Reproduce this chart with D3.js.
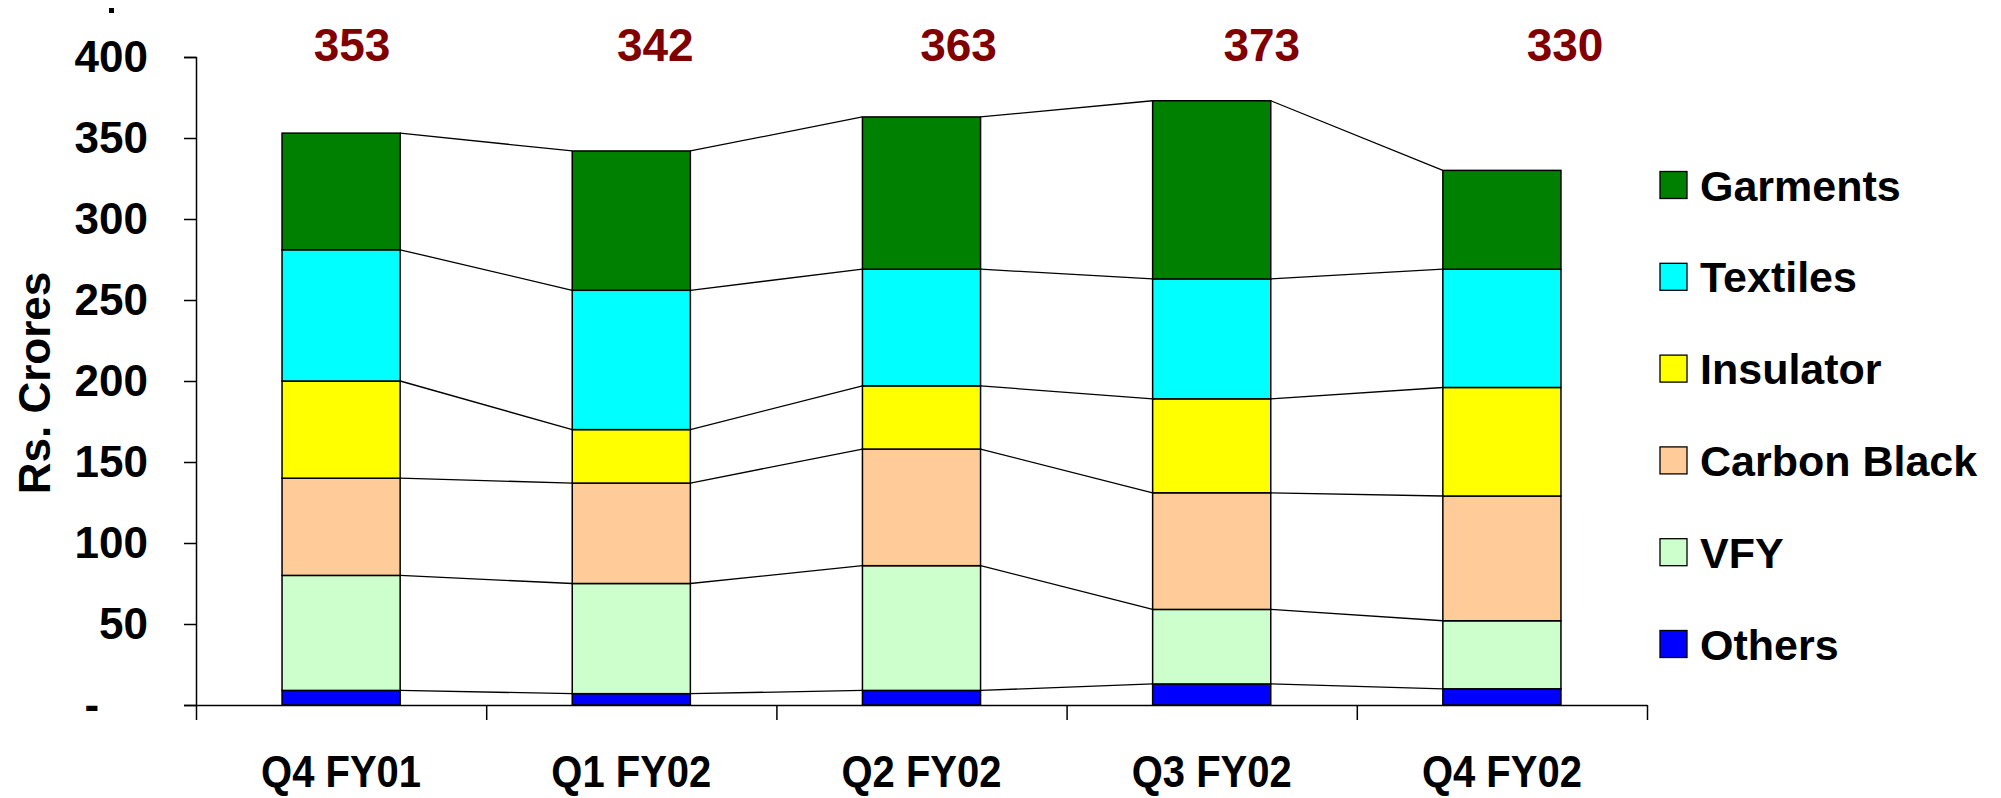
<!DOCTYPE html>
<html>
<head>
<meta charset="utf-8">
<script src="https://cdn.jsdelivr.net/npm/d3@7"></script>
<style>
  body { margin: 0; background: #fff; }
  text { font-family: "Liberation Sans", Arial, sans-serif; font-weight: bold; }
</style>
</head>
<body>
<div id="chart"></div>
<script>
// Sales mix by business, stacked bars with connector lines (Rs. Crores)
const width = 2001, height = 798;
const margin = {top: 57, right: 354, bottom: 93, left: 196};

const categories = ["Q4 FY01", "Q1 FY02", "Q2 FY02", "Q3 FY02", "Q4 FY02"];
const seriesNames = ["Others", "VFY", "Carbon Black", "Insulator", "Textiles", "Garments"];
const others    = [9, 7, 9, 13, 10];
const vfy       = [71, 68, 77, 46, 42];
const carbon    = [60, 62, 72, 72, 77];
const insulator = [60, 33, 39, 58, 67];
const textiles  = [81, 86, 72, 74, 73];
const garments  = [72, 86, 94, 110, 61];
const totals    = [353, 342, 363, 373, 330];
const yTicks    = [0, 50, 100, 150, 200, 250, 300, 350, 400];

const colors = {
  "Garments": "#008000", "Textiles": "#00ffff", "Insulator": "#ffff00",
  "Carbon Black": "#ffcc99", "VFY": "#ccffcc", "Others": "#0000ff"
};

const rows = categories.map((c, i) => ({
  cat: c, "Others": others[i], "VFY": vfy[i], "Carbon Black": carbon[i],
  "Insulator": insulator[i], "Textiles": textiles[i], "Garments": garments[i]
}));

const svg = d3.select("#chart").append("svg")
  .attr("width", width).attr("height", height).attr("viewBox", `0 0 ${width} ${height}`);

const x = d3.scaleBand().domain(categories)
  .range([margin.left, width - margin.right])
  .paddingInner(0.593).paddingOuter(0.2965);
const y = d3.scaleLinear().domain([0, 400]).range([height - margin.bottom, margin.top]);
const bw = x.bandwidth();

const stack = d3.stack().keys(seriesNames)(rows);

// connector lines between segment tops of neighbouring bars
const conn = svg.append("g").attr("stroke", "#000").attr("stroke-width", 1.3).attr("fill", "none");
stack.forEach(layer => {
  for (let i = 0; i < categories.length - 1; i++) {
    conn.append("line")
      .attr("x1", x(categories[i]) + bw).attr("y1", y(layer[i][1]))
      .attr("x2", x(categories[i + 1])).attr("y2", y(layer[i + 1][1]));
  }
});

// bars
svg.append("g").selectAll("g").data(stack).join("g")
  .attr("fill", d => colors[d.key])
  .selectAll("rect").data(d => d).join("rect")
  .attr("x", d => x(d.data.cat)).attr("width", bw)
  .attr("y", d => y(d[1])).attr("height", d => y(d[0]) - y(d[1]))
  .attr("stroke", "#000").attr("stroke-width", 1.5);

// y axis
const yAxis = svg.append("g").attr("transform", `translate(${margin.left},0)`)
  .call(d3.axisLeft(y).tickValues(yTicks).tickSize(12).tickPadding(36)
    .tickFormat(d => d === 0 ? "-\u00a0\u00a0\u00a0\u00a0" : d));
yAxis.select(".domain").attr("stroke-width", 1.5);
yAxis.selectAll(".tick line").attr("stroke-width", 1.5);
yAxis.selectAll("text").attr("font-size", 44).attr("fill", "#000")
  .attr("font-family", "'Liberation Sans', Arial, sans-serif").attr("font-weight", "bold");

// x axis: line with ticks on category boundaries
const xb = d3.scaleLinear().domain([0, categories.length]).range(x.range());
const xAxis = svg.append("g").attr("transform", `translate(0,${y(0)})`)
  .call(d3.axisBottom(xb).tickValues(d3.range(categories.length + 1)).tickSize(15).tickSizeOuter(0).tickFormat(""));
xAxis.select(".domain").attr("stroke-width", 1.5);
xAxis.selectAll(".tick line").attr("stroke-width", 1.5);

svg.append("g").selectAll("text").data(categories).join("text")
  .attr("x", d => x(d) + bw / 2).attr("y", 787)
  .attr("text-anchor", "middle").attr("font-size", 44)
  .attr("textLength", 160).attr("lengthAdjust", "spacingAndGlyphs")
  .text(d => d);

// totals above the bars
const xLabel = d3.scalePoint().domain(categories).range([352, 1565]);
svg.append("g").selectAll("text").data(categories).join("text")
  .attr("x", d => xLabel(d)).attr("y", 61)
  .attr("text-anchor", "middle").attr("font-size", 46).attr("fill", "#800000")
  .text((d, i) => totals[i]);

// stray dot at top-left (clipped label remnant in the original)
svg.append("rect").attr("x", 109).attr("y", 8).attr("width", 5).attr("height", 5).attr("fill", "#000");

// y title
svg.append("text").attr("transform", "rotate(-90)")
  .attr("x", -383).attr("y", 50).attr("text-anchor", "middle")
  .attr("font-size", 44).text("Rs. Crores");

// legend
const legendNames = seriesNames.slice().reverse();
const ly = d3.scalePoint().domain(legendNames).range([185, 644]);
const legend = svg.append("g");
legend.selectAll("rect").data(legendNames).join("rect")
  .attr("x", 1660).attr("y", d => ly(d) - 13.5).attr("width", 27).attr("height", 27)
  .attr("fill", d => colors[d]).attr("stroke", "#000").attr("stroke-width", 1.3);
legend.selectAll("text").data(legendNames).join("text")
  .attr("x", 1700).attr("y", d => ly(d) + 15.5)
  .attr("font-size", 43).text(d => d);
</script>
</body>
</html>
